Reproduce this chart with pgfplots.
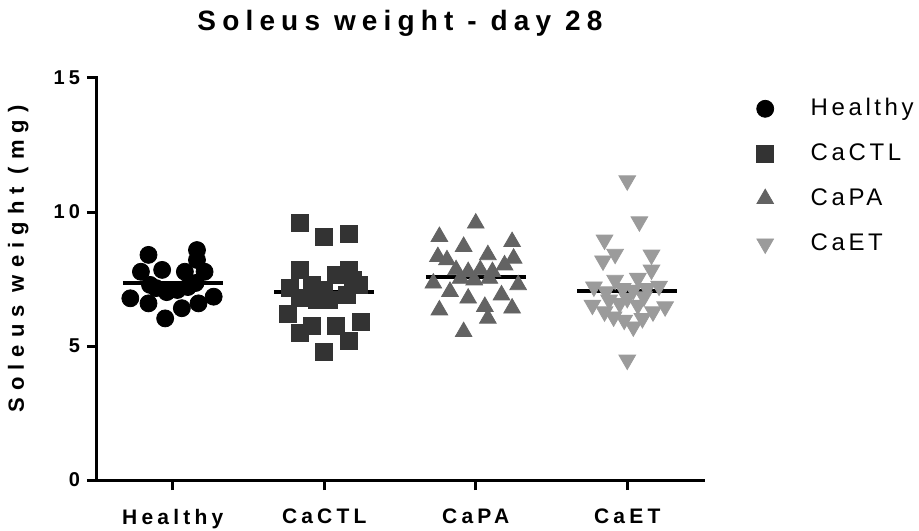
\documentclass[border=0pt]{standalone}
\usepackage{fontspec}
\setmainfont{Liberation Sans}
\newfontfamily\titlefont[LetterSpace=22]{Liberation Sans}
\newfontfamily\labfont[LetterSpace=32]{Liberation Sans}
\newfontfamily\tickfont[LetterSpace=20]{Liberation Sans}
\newfontfamily\legfont[LetterSpace=15]{Liberation Sans}
\usepackage{pgfplots}
\pgfplotsset{compat=1.18}
\definecolor{cHealthy}{HTML}{000000}
\definecolor{cCTL}{HTML}{333333}
\definecolor{cPA}{HTML}{636363}
\definecolor{cET}{HTML}{9B9B9B}
\begin{document}
\begin{tikzpicture}
\begin{axis}[
  scale only axis, width=303pt, height=201pt,
  xmin=-0.5, xmax=3.5, ymin=0, ymax=15,
  axis lines*=left,
  axis line style={line width=1.5pt, line cap=rect},
  xtick={0,1,2,3}, xticklabels={Healthy,CaCTL,CaPA,CaET},
  ytick={0,5,10,15},
  tick align=outside, major tick length=5pt,
  tick style={line width=1.5pt, black},
  /pgf/number format/assume math mode=true,
  xticklabel style={font=\fontsize{10.5}{12}\selectfont\tickfont\bfseries, yshift=-6pt},
  yticklabel style={font=\fontsize{10}{11}\selectfont\tickfont\bfseries},
  title={Soleus weight - day 28},
  title style={at={(axis description cs:0.5,1.107)}, anchor=center, font=\fontsize{14}{16}\selectfont\titlefont\bfseries},
  ylabel={Soleus weight (mg)},
  every axis y label/.style={at={(axis description cs:-0.13,0.55)}, anchor=center, rotate=90, font=\fontsize{11}{13}\selectfont\labfont\bfseries},
  legend image code/.code={\draw[#1] plot coordinates {(0pt,0pt)};},
  legend cell align=left,
  legend style={draw=none, fill=none, inner sep=0pt,
    at={(axis description cs:1.088,0.953)}, anchor=north west,
    font=\fontsize{12}{14}\selectfont\legfont,
    row sep=11pt,
    nodes={inner sep=0pt, text height=9pt, text depth=2.5pt},
    /tikz/every odd column/.append style={column sep=18.5pt}},
]
\addplot[only marks, mark=*, mark size=4.25pt, mark options={fill=cHealthy, draw=cHealthy}] coordinates {
(-0.16,8.40)(0.16,8.58)(0.16,8.21)(-0.21,7.77)(-0.07,7.84)(0.08,7.77)(0.21,7.77)(-0.28,6.78)(-0.16,6.59)(-0.05,6.03)(0.06,6.41)(0.17,6.59)(0.27,6.84)(-0.11,7.16)(-0.04,7.01)(0.03,7.09)(0.10,7.20)(0.15,7.35)(-0.15,7.28)
};
\addlegendentry{Healthy}
\addplot[only marks, mark=square*, mark size=4.25pt, mark options={fill=cCTL, draw=cCTL}] coordinates {
(0.84,9.60)(1.00,9.08)(1.16,9.17)(0.84,7.84)(1.16,7.84)(0.77,7.15)(0.92,7.28)(1.08,7.65)(1.23,7.28)(0.84,6.78)(0.95,6.72)(1.03,6.72)(1.15,6.90)(1.00,7.09)(1.19,7.46)(0.76,6.18)(0.84,5.50)(0.92,5.75)(1.08,5.75)(1.24,5.91)(1.16,5.20)(1.00,4.79)
};
\addlegendentry{CaCTL}
\addplot[only marks, mark=triangle*, mark size=4.8pt, mark options={fill=cPA, draw=cPA}] coordinates {
(2.00,9.58)(1.76,9.08)(2.24,8.89)(1.92,8.71)(1.75,8.33)(1.81,8.21)(2.08,8.40)(2.25,8.27)(2.19,8.02)(1.87,7.84)(1.95,7.77)(2.03,7.84)(2.11,7.77)(1.99,7.46)(1.90,7.52)(2.09,7.52)(1.72,7.34)(1.83,7.03)(2.28,7.28)(1.95,6.78)(2.17,6.90)(2.06,6.47)(1.76,6.34)(2.24,6.41)(2.08,6.03)(1.92,5.53)
};
\addlegendentry{CaPA}
\addplot[only marks, mark=triangle*, mark size=4.8pt, mark options={fill=cET, draw=cET, rotate=180}] coordinates {
(3.00,11.17)(3.08,9.64)(2.85,8.96)(2.92,8.43)(2.84,8.18)(3.16,8.40)(3.16,7.84)(2.92,7.46)(3.07,7.53)(2.78,7.21)(3.21,7.24)(2.86,7.03)(2.97,7.15)(3.04,7.09)(3.13,7.15)(2.88,6.72)(3.00,6.78)(3.11,6.84)(2.95,6.59)(3.07,6.53)(2.77,6.53)(3.25,6.47)(2.85,6.28)(2.91,6.09)(2.98,5.97)(3.04,5.72)(3.10,6.03)(3.17,6.28)(3.00,4.48)
};
\addlegendentry{CaET}
% group means
\addplot[forget plot, black, line width=2pt, no marks] coordinates {(-0.33,7.34)(0.33,7.34)};
\addplot[forget plot, black, line width=2pt, no marks] coordinates {(0.67,7.00)(1.33,7.00)};
\addplot[forget plot, black, line width=2pt, no marks] coordinates {(1.67,7.56)(2.33,7.56)};
\addplot[forget plot, black, line width=2pt, no marks] coordinates {(2.67,7.06)(3.33,7.06)};
\end{axis}
\pgfresetboundingbox
\useasboundingbox (-48.5pt,-25pt) rectangle (411pt,240pt);
\end{tikzpicture}
\end{document}
